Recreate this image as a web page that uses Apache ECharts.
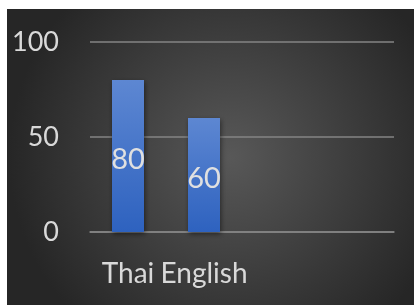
<!DOCTYPE html>
<html>
<head>
<meta charset="utf-8">
<script src="https://cdn.jsdelivr.net/npm/echarts@6/dist/echarts.min.js"></script>
<style>
  html, body { margin: 0; padding: 0; background: #fff; }
  #chart { position: absolute; left: 7px; top: 9px; width: 407px; height: 296px; }
</style>
</head>
<body>
<div id="chart"></div>
<script>
const categories = ["Thai", "English", "", ""];
const scores = [80, 60, null, null];
const yTicks = [0, 50, 100];

const chart = echarts.init(document.getElementById("chart"));
const fontFamily = "Lato, 'Open Sans', sans-serif";

chart.setOption({
  animation: false,
  backgroundColor: {
    type: "radial",
    x: 0.55,
    y: 0.5,
    r: 0.75,
    colorStops: [
      { offset: 0, color: "#585858" },
      { offset: 1, color: "#262626" },
    ],
  },
  grid: {
    left: 83,
    right: 20,
    top: 33,
    bottom: 73,
  },
  xAxis: {
    type: "category",
    data: categories,
    axisTick: { show: false },
    axisLine: { lineStyle: { color: "#858585", width: 1.5 } },
    axisLabel: {
      color: "#d9d9d9",
      fontSize: 28,
      fontFamily,
      margin: 28,
      interval: 0,
    },
  },
  yAxis: {
    type: "value",
    min: yTicks[0],
    max: yTicks[yTicks.length - 1],
    interval: 50,
    axisLine: { show: false },
    axisTick: { show: false },
    splitLine: { lineStyle: { color: "#858585", width: 1.5 } },
    axisLabel: {
      color: "#d9d9d9",
      fontSize: 27,
      fontFamily,
      margin: 31,
    },
  },
  series: [
    {
      type: "bar",
      data: scores,
      barWidth: 32,
      itemStyle: {
        color: {
          type: "linear",
          x: 0, y: 0, x2: 0, y2: 1,
          colorStops: [
            { offset: 0, color: "#5d87d2" },
            { offset: 1, color: "#2e62bf" },
          ],
        },
        shadowColor: "rgba(0,0,0,0.5)",
        shadowBlur: 5,
        shadowOffsetX: 1,
        shadowOffsetY: 2,
      },
      label: {
        show: true,
        position: "inside",
        offset: [0, 4],
        color: "#e0e0e0",
        fontSize: 29,
        fontFamily,
      },
    },
  ],
});
</script>
</body>
</html>
